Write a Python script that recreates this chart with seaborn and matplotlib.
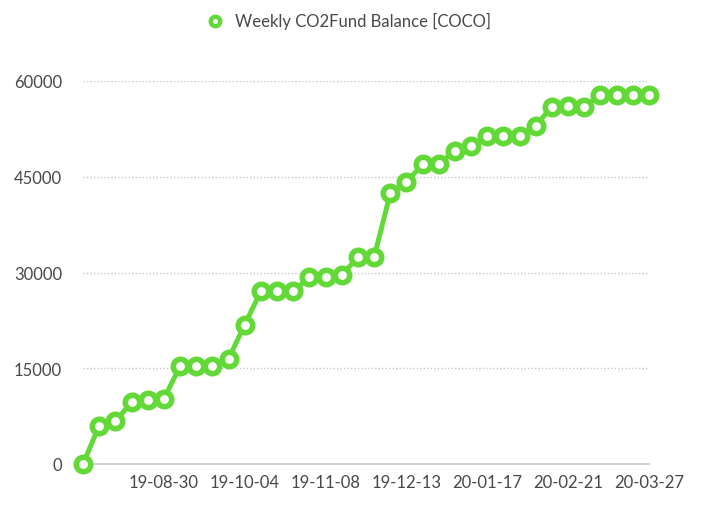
import matplotlib
matplotlib.use("Agg")
import matplotlib.pyplot as plt
import seaborn as sns
import pandas as pd
from matplotlib.lines import Line2D

dates = ["19-07-26", "19-08-02", "19-08-09", "19-08-16", "19-08-23", "19-08-30",
         "19-09-06", "19-09-13", "19-09-20", "19-09-27", "19-10-04", "19-10-11",
         "19-10-18", "19-10-25", "19-11-01", "19-11-08", "19-11-15", "19-11-22",
         "19-11-29", "19-12-06", "19-12-13", "19-12-20", "19-12-27", "20-01-03",
         "20-01-10", "20-01-17", "20-01-24", "20-01-31", "20-02-07", "20-02-14",
         "20-02-21", "20-02-28", "20-03-06", "20-03-13", "20-03-20", "20-03-27"]
balance = [0, 6000, 6700, 9650, 10050, 10200,
           15300, 15300, 15300, 16450, 21850, 27050,
           27050, 27050, 29250, 29250, 29600, 32400,
           32400, 42400, 44150, 46950, 46950, 49100,
           49800, 51450, 51450, 51450, 53000, 56000,
           56150, 56000, 57800, 57800, 57800, 57800]
yticks = [0, 15000, 30000, 45000, 60000]
xtick_idx = [5, 10, 15, 20, 25, 30, 35]
series_name = "Weekly CO2Fund Balance [COCO]"

GREEN = "#62d936"
TXT = "#484848"

sns.set_style("white")
plt.rcParams["font.family"] = ["Lato", "DejaVu Sans"]

df = pd.DataFrame({"idx": list(range(len(dates))), "balance": balance})

fig = plt.figure(figsize=(7.1, 5.1), dpi=100)
ax = fig.add_axes([83 / 710, 45 / 510, (649 - 83) / 710, (465 - 82) / 510])

sns.lineplot(data=df, x="idx", y="balance", ax=ax, color=GREEN, linewidth=3.6,
             marker="o", markersize=10.4, markeredgewidth=4.0,
             markeredgecolor=GREEN, markerfacecolor="white", clip_on=False, zorder=5)

ax.set_xlim(0, len(dates) - 1)
ax.set_ylim(0, 60000)
ax.set_yticks(yticks)
ax.set_yticklabels([str(v) for v in yticks])
ax.set_xticks(xtick_idx)
ax.set_xticklabels([dates[i] for i in xtick_idx])
ax.set_xlabel("")
ax.set_ylabel("")

for y in yticks[1:]:
    ax.axhline(y, color="#c8c8c8", linewidth=1.0, linestyle=(0, (1, 1.5)), zorder=1)

for s in ["top", "right", "left"]:
    ax.spines[s].set_visible(False)
ax.spines["bottom"].set_color("#c8c8c8")
ax.spines["bottom"].set_linewidth(1.2)
ax.spines["bottom"].set_zorder(2)

ax.tick_params(axis="both", length=0, labelsize=12, labelcolor=TXT)
ax.tick_params(axis="y", pad=15)
ax.tick_params(axis="x", pad=7)

handle = Line2D([], [], linestyle="none", marker="o", markersize=6.8,
                markeredgewidth=3.2, markeredgecolor=GREEN, markerfacecolor="white")
fig.legend([handle], [series_name], loc="upper left", bbox_to_anchor=(193 / 710, 1.0),
           frameon=False, fontsize=12, labelcolor=TXT, handlelength=1.0,
           handletextpad=0.7, borderaxespad=0.4)

fig.savefig("out.png", dpi=100)
